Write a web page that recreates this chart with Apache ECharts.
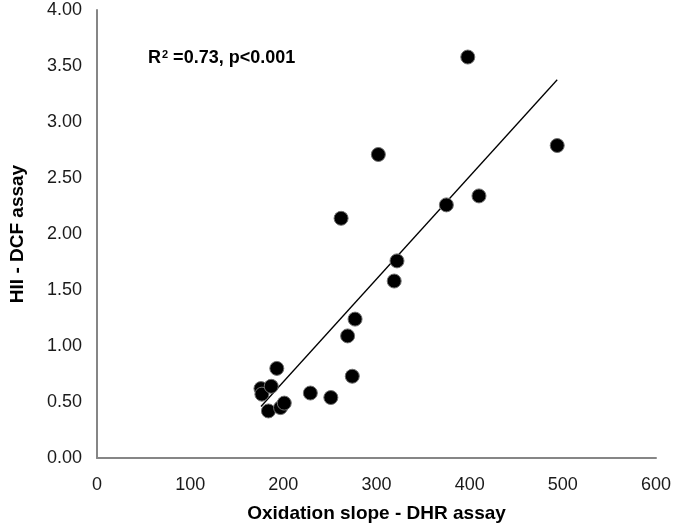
<!DOCTYPE html>
<html>
<head>
<meta charset="utf-8">
<script src="https://cdn.jsdelivr.net/npm/echarts@6/dist/echarts.min.js"></script>
<style>
html,body{margin:0;padding:0;background:#fff;}
#chart{width:674px;height:528px;}
</style>
</head>
<body>
<div id="chart"></div>
<script>
// Oxidation slope (DHR assay) values
var xValues = [176, 177, 187, 193, 184, 197, 201, 229, 251, 274, 269, 277, 319, 322, 262, 302, 375, 410, 398, 494];
// HII (DCF assay) values
var yValues = [0.62, 0.57, 0.64, 0.80, 0.42, 0.45, 0.49, 0.58, 0.54, 0.73, 1.09, 1.24, 1.58, 1.76, 2.14, 2.71, 2.26, 2.34, 3.58, 2.79];
var xTicks = [0, 100, 200, 300, 400, 500, 600];
var yTicks = [0, 0.5, 1, 1.5, 2, 2.5, 3, 3.5, 4];
var xTitle = 'Oxidation slope - DHR assay';
var yTitle = 'HII - DCF assay';

var points = xValues.map(function (x, i) { return [x, yValues[i]]; });

// least-squares trend line
var n = xValues.length;
var mx = xValues.reduce(function (a, b) { return a + b; }, 0) / n;
var my = yValues.reduce(function (a, b) { return a + b; }, 0) / n;
var sxy = 0, sxx = 0;
for (var i = 0; i < n; i++) { sxy += (xValues[i] - mx) * (yValues[i] - my); sxx += (xValues[i] - mx) * (xValues[i] - mx); }
var slope = sxy / sxx, intercept = my - slope * mx;
var xmin = Math.min.apply(null, xValues), xmax = Math.max.apply(null, xValues);
var trend = [[xmin, intercept + slope * xmin], [xmax, intercept + slope * xmax]];

var chart = echarts.init(document.getElementById('chart'));
var axisColor = '#868686';
var textColor = '#1a1a1a';
var font = 'Liberation Sans, Arial, sans-serif';
chart.setOption({
  animation: false,
  backgroundColor: '#fff',
  grid: { left: 97, right: 16, top: 10, bottom: 64 },
  xAxis: {
    type: 'value', min: xTicks[0], max: xTicks[xTicks.length - 1], interval: 100,
    name: xTitle, nameLocation: 'middle', nameGap: 46,
    nameTextStyle: { fontFamily: font, fontWeight: 'bold', fontSize: 19, color: '#000' },
    axisLine: { show: true, onZero: false, lineStyle: { color: axisColor, width: 2 } },
    axisTick: { show: false },
    splitLine: { show: false },
    axisLabel: { margin: 18, fontFamily: font, fontSize: 18, color: textColor }
  },
  yAxis: {
    type: 'value', min: yTicks[0], max: yTicks[yTicks.length - 1], interval: 0.5,
    name: yTitle, nameLocation: 'middle', nameGap: 70, nameRotate: 90,
    nameTextStyle: { fontFamily: font, fontWeight: 'bold', fontSize: 19, color: '#000' },
    axisLine: { show: true, onZero: false, lineStyle: { color: axisColor, width: 2 } },
    axisTick: { show: false },
    splitLine: { show: false },
    axisLabel: { margin: 15, fontFamily: font, fontSize: 18, color: textColor,
      formatter: function (v) { return v.toFixed(2); } }
  },
  graphic: [{
    type: 'text', left: 148, top: 49,
    style: {
      text: '{b|R}{s|2}{b| =0.73, p<0.001}',
      rich: {
        b: { fontFamily: font, fontWeight: 'bold', fontSize: 18, fill: '#000' },
        s: { fontFamily: font, fontWeight: 'bold', fontSize: 11, fill: '#000', verticalAlign: 'top', padding: [0, 0, 8, 1] }
      }
    }
  }],
  series: [
    {
      type: 'line', data: trend, symbol: 'none', silent: true,
      lineStyle: { color: '#000', width: 1.3 }, z: 1
    },
    {
      type: 'scatter', data: points, symbol: 'circle', symbolSize: 14,
      itemStyle: { color: '#000', opacity: 1, borderColor: '#6f6f6f', borderWidth: 1 }, z: 2
    }
  ]
});
</script>
</body>
</html>
